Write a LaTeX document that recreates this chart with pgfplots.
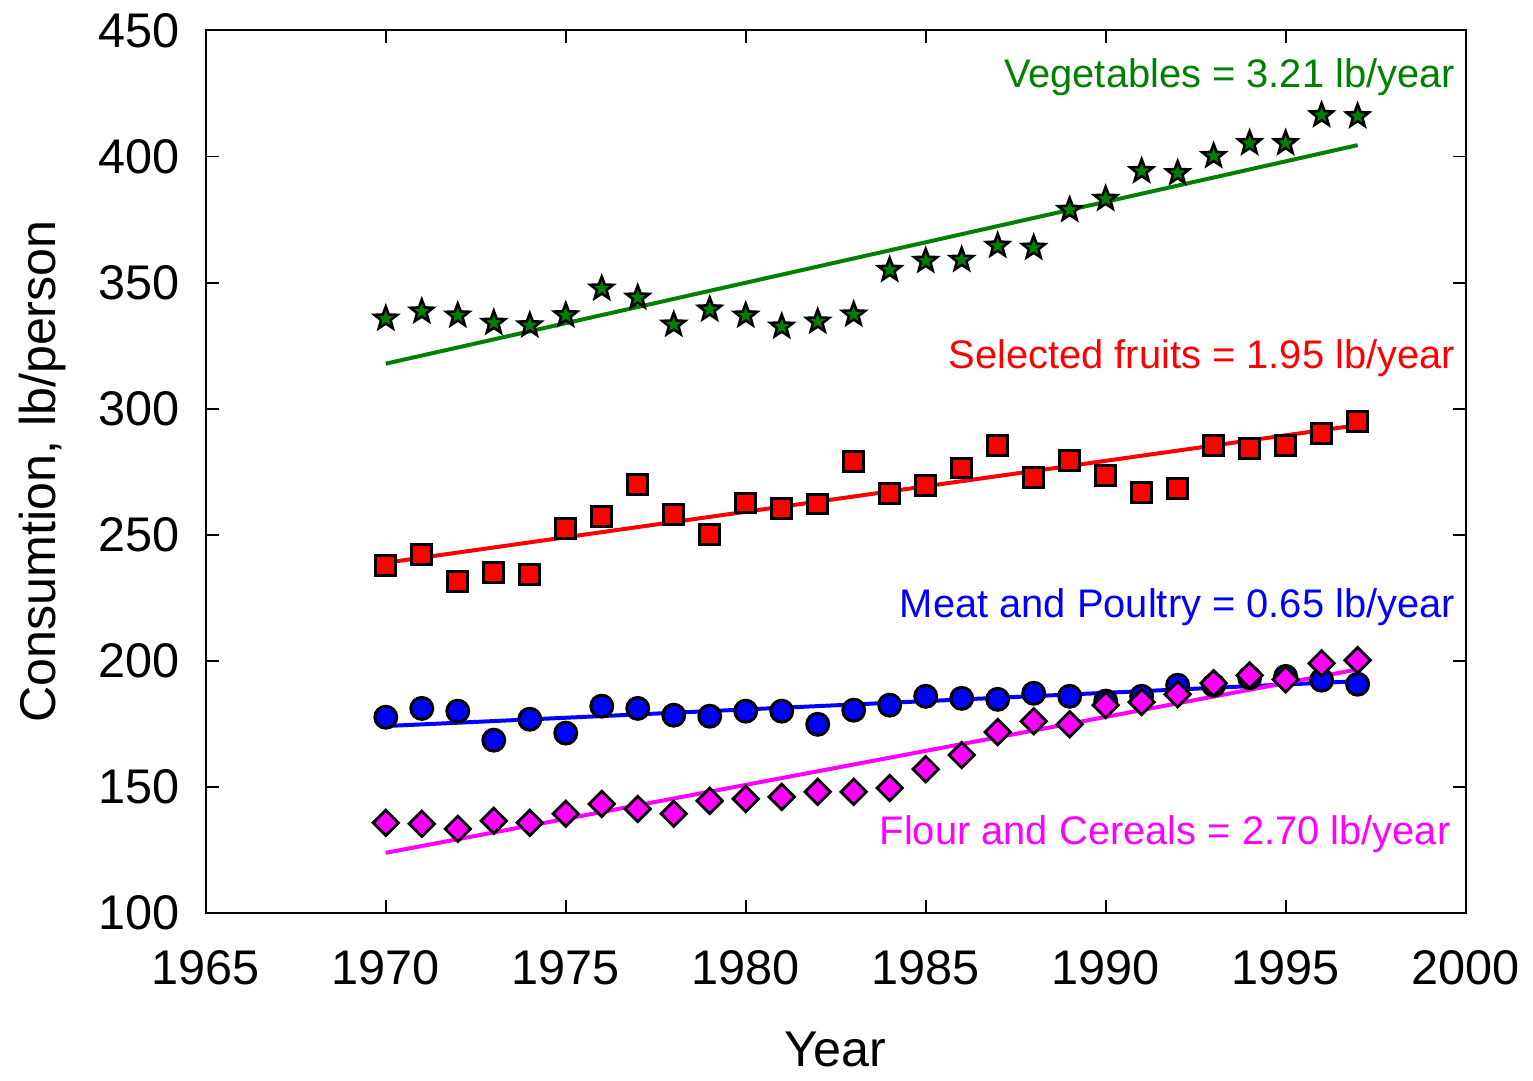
\documentclass[border=0pt]{standalone}
\usepackage{fontspec}
\setmainfont{Liberation Sans}
\usepackage{pgfplots}
\pgfplotsset{compat=1.18}
\definecolor{vgreen}{rgb}{0,0.5,0}
\definecolor{mag}{rgb}{1,0,1}
\definecolor{pblue}{rgb}{0,0,1}
\definecolor{pred}{rgb}{1,0,0}
\pgfdeclareplotmark{fstar}{%
  \pgfpathmoveto{\pgfpointpolar{90}{\pgfplotmarksize}}%
  \pgfpathlineto{\pgfpointpolar{126}{0.42\pgfplotmarksize}}%
  \pgfpathlineto{\pgfpointpolar{162}{\pgfplotmarksize}}%
  \pgfpathlineto{\pgfpointpolar{198}{0.42\pgfplotmarksize}}%
  \pgfpathlineto{\pgfpointpolar{234}{\pgfplotmarksize}}%
  \pgfpathlineto{\pgfpointpolar{270}{0.42\pgfplotmarksize}}%
  \pgfpathlineto{\pgfpointpolar{306}{\pgfplotmarksize}}%
  \pgfpathlineto{\pgfpointpolar{342}{0.42\pgfplotmarksize}}%
  \pgfpathlineto{\pgfpointpolar{18}{\pgfplotmarksize}}%
  \pgfpathlineto{\pgfpointpolar{54}{0.42\pgfplotmarksize}}%
  \pgfpathclose
  \pgfusepathqfillstroke
}
\begin{document}
\begin{tikzpicture}
\begin{axis}[
  scale only axis,
  width=316pt, height=221.25pt,
  xmin=1965, xmax=2000, ymin=100, ymax=450,
  xtick={1965,1970,...,2000}, ytick={100,150,...,450},
  /pgf/number format/assume math mode=true,
  x tick label style={/pgf/number format/1000 sep={}, yshift=-6pt},
  y tick label style={xshift=-3pt},
  tick label style={font=\fontsize{12.2}{14}\selectfont},
  label style={font=\fontsize{12.6}{14}\selectfont},
  xlabel={Year}, ylabel={Consumtion, lb/person},
  xlabel style={yshift=-5pt},
  ylabel style={yshift=1.3pt},
  tick align=inside, major tick length=3.2pt,
  axis line style={line width=0.5pt}, every tick/.style={line width=0.5pt,black},
  clip=false,
]
% Vegetables
\addplot[vgreen, line width=1pt, forget plot] coordinates {(1970,317.8) (1997,404.5)};
\addplot[only marks, mark=fstar, mark size=3pt,
  mark options={line width=0.65pt, draw=black, fill=vgreen, line join=miter}] coordinates {
(1970,335.7) (1971,338.5) (1972,336.9) (1973,334) (1974,333) (1975,337) (1976,347.6)
(1977,344) (1978,333.3) (1979,339.3) (1980,336.9) (1981,332.5) (1982,334.5) (1983,337.3)
(1984,355) (1985,358.6) (1986,359) (1987,364.6) (1988,363.8) (1989,378.8) (1990,383.2)
(1991,394.2) (1992,393.4) (1993,400.2) (1994,405.3) (1995,405.3) (1996,416.4) (1997,416)};
% Fruits
\addplot[pred, line width=1pt, forget plot] coordinates {(1970,238.8) (1997,293.4)};
\addplot[only marks, mark=square*, mark size=2.5pt,
  mark options={line width=0.75pt, draw=black, fill=pred}] coordinates {
(1970,237.6) (1971,242) (1972,231.3) (1973,234.9) (1974,234.1) (1975,252.3) (1976,257)
(1977,270) (1978,257.8) (1979,249.9) (1980,262.5) (1981,260.2) (1982,262.1) (1983,278.8)
(1984,266.1) (1985,269.3) (1986,276.4) (1987,285.5) (1988,272.8) (1989,279.2) (1990,273.6)
(1991,266.5) (1992,268.1) (1993,285.5) (1994,284.3) (1995,285.5) (1996,290.2) (1997,295)};
% Meat
\addplot[pblue, line width=1pt, forget plot] coordinates {(1970,174) (1997,191.8)};
\addplot[only marks, mark=*, mark size=2.75pt,
  mark options={line width=0.75pt, draw=black, fill=pblue}] coordinates {
(1970,177.5) (1971,181) (1972,179.9) (1973,168.4) (1974,176.7) (1975,171.2) (1976,181.9)
(1977,181) (1978,178.3) (1979,177.9) (1980,179.9) (1981,179.9) (1982,174.7) (1983,180.3)
(1984,182.3) (1985,185.8) (1986,185) (1987,184.6) (1988,187) (1989,185.8) (1990,183.9)
(1991,185.8) (1992,190.2) (1993,190.2) (1994,193.2) (1995,193.7) (1996,192.2) (1997,190.6)};
% Flour
\addplot[mag, line width=1pt, forget plot] coordinates {(1970,123.7) (1997,196.5)};
\addplot[only marks, mark=square*, mark size=2.25pt,
  mark options={rotate=45, line width=0.7pt, draw=black, fill=mag}] coordinates {
(1970,135.6) (1971,135.2) (1972,133.2) (1973,136.4) (1974,135.6) (1975,139.2) (1976,143.1)
(1977,141.1) (1978,139.2) (1979,144.3) (1980,145.1) (1981,145.9) (1982,147.9) (1983,147.9)
(1984,149.4) (1985,156.9) (1986,162.5) (1987,171.6) (1988,175.9) (1989,174.7) (1990,182.3)
(1991,183.5) (1992,186.6) (1993,191) (1994,194.1) (1995,192.5) (1996,198.9) (1997,200.1)};
\node[anchor=base east, text=vgreen, inner sep=0pt, font=\fontsize{10}{12}\selectfont] at (axis cs:1999.73,427.5) {Vegetables = 3.21 lb/year};
\node[anchor=base east, text=pred, inner sep=0pt, font=\fontsize{10}{12}\selectfont] at (axis cs:1999.73,315.9) {Selected fruits = 1.95 lb/year};
\node[anchor=base east, text=pblue, inner sep=0pt, font=\fontsize{10}{12}\selectfont] at (axis cs:1999.73,217) {Meat and Poultry = 0.65 lb/year};
\node[anchor=base east, text=mag, inner sep=0pt, font=\fontsize{10}{12}\selectfont] at (axis cs:1999.6,126.9) {Flour and Cereals = 2.70 lb/year};
\end{axis}
\path ([xshift=-1.5pt]current bounding box.west);
\end{tikzpicture}
\end{document}
